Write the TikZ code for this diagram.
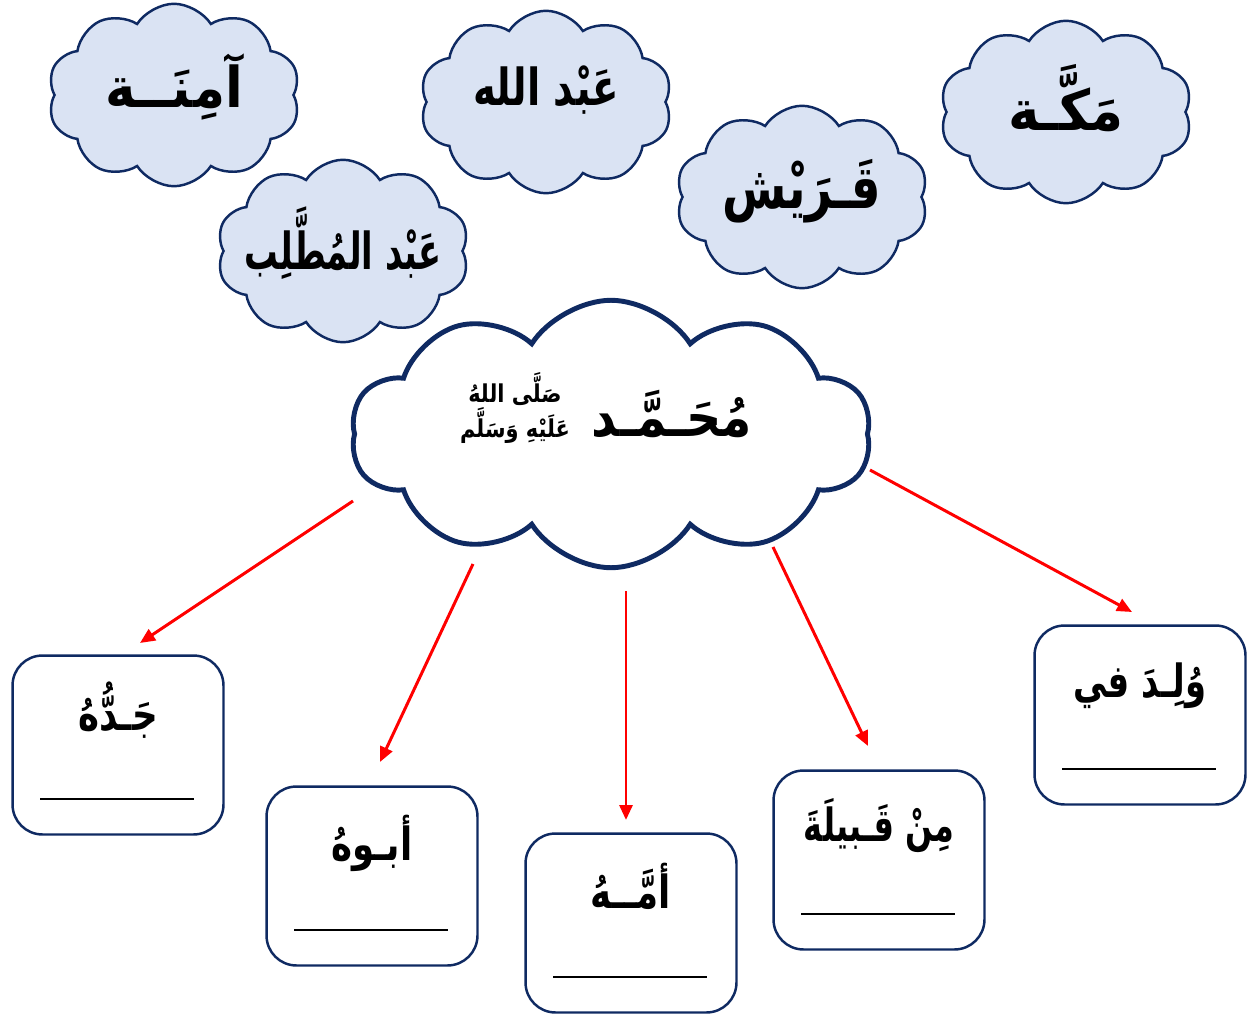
\documentclass[tikz,border=0pt]{standalone}
\usepackage{fontspec}
\TeXXeTstate=1
\newfontfamily\arabicfont[Script=Arabic]{DejaVu Sans}
\usetikzlibrary{shapes.symbols,arrows.meta,calc}
\definecolor{navy}{HTML}{0F2A62}
\definecolor{cloudfill}{HTML}{DAE3F3}
\newcommand{\artxt}[2][0.72]{\scalebox{#1}[1]{\beginR #2\endR}}
\begin{document}
\begin{tikzpicture}[x=0.02cm,y=-0.02cm,
  smallcloud/.style={cloud, cloud puffs=10, cloud puff arc=115, aspect=1.4, draw=navy, fill=cloudfill, line width=1.4pt, minimum width=5.05cm, minimum height=3.65cm, inner sep=0pt},
  bigcloud/.style={cloud, cloud puffs=10, cloud puff arc=115, aspect=1.9, draw=navy, fill=white, line width=2.8pt, minimum width=10.4cm, minimum height=5.35cm, inner sep=0pt},
  cloudtext/.style={font=\arabicfont\bfseries\fontsize{29}{34}\selectfont, inner sep=0pt},
  answerbox/.style={draw=navy, line width=1.4pt, rounded corners=0.6cm, minimum width=4.22cm, minimum height=3.58cm, fill=white, inner sep=0pt},
  boxtext/.style={font=\arabicfont\bfseries\fontsize{26}{31}\selectfont, inner sep=0pt},
  answerline/.style={line width=0.8pt, black},
  redarrow/.style={draw=red, line width=1.7pt, -{Triangle[length=0.3cm,width=0.26cm]}}
]
\useasboundingbox (0,0) rectangle (1249,1014);

% top clouds
\node[smallcloud] (amina) at (174,95) {};
\node[smallcloud] (abdallah) at (546,102) {};
\node[smallcloud] (makka) at (1066,112) {};
\node[smallcloud] (quraysh) at (802,197) {};
\node[smallcloud] (muttalib) at (343,251) {};
\node[cloudtext, font=\arabicfont\bfseries\fontsize{32}{38}\selectfont] (taminah) at ($(amina.center)+(0,-8)$) {\artxt[0.92]{آمِنَــة}};
\node[cloudtext] (tabdallah) at ($(abdallah.center)+(0,-12)$) {\artxt[0.76]{عَبْد الله}};
\node[cloudtext, font=\arabicfont\bfseries\fontsize{32}{38}\selectfont] (tmakka) at ($(makka.center)+(0,-14)$) {\artxt[0.95]{مَكَّـة}};
\node[cloudtext, font=\arabicfont\bfseries\fontsize{34}{40}\selectfont] (tquraysh) at ($(quraysh.center)+(0,-6)$) {\artxt[0.78]{قَـرَيْش}};
\node[cloudtext] (tmuttalib) at ($(muttalib.center)+(0,-8)$) {\artxt[0.66]{عَبْد المُطَّلِب}};

% central cloud
\node[bigcloud] (center) at (611,434) {};
\node[font=\arabicfont\bfseries\fontsize{31}{37}\selectfont, inner sep=0pt] (muhammad) at (672,414) {\artxt[0.9]{مُحَـمَّـد}};
\node[font=\arabicfont\bfseries\fontsize{14}{18}\selectfont, align=center, inner sep=0pt] (salawat) at (515,408) {\artxt[0.85]{صَلَّى اللهُ}\\\artxt[0.85]{عَلَيْهِ وَسَلَّم}};

% answer boxes
\node[answerbox] (b1) at (118,745) {};
\node[answerbox] (b2) at (372,876) {};
\node[answerbox] (b3) at (631,923) {};
\node[answerbox] (b4) at (879,860) {};
\node[answerbox] (b5) at (1140,715) {};

\node[boxtext] (t1) at (118,710) {\artxt[0.78]{جَـدُّهُ}};
\node[boxtext] (t2) at (372,843) {\artxt[0.78]{أبـوهُ}};
\node[boxtext] (t3) at (631,886) {\artxt[0.78]{أمَّــهُ}};
\node[boxtext] (t4) at (879,826) {\artxt[0.7]{مِنْ قَـبيلَةَ}};
\node[boxtext] (t5) at (1140,686) {\artxt[0.74]{وُلِـدَ في}};

\foreach \b in {b1,b2,b3,b4,b5}{
  \draw[answerline] ($(\b.center)+(-78,54)$) -- ($(\b.center)+(76,54)$);
}

% arrows
\coordinate (s1) at (353,501); \coordinate (e1) at (140,643);
\coordinate (s2) at (473,564); \coordinate (e2) at (380,762);
\coordinate (s3) at (626,591); \coordinate (e3) at (626,820);
\coordinate (s4) at (773,547); \coordinate (e4) at (868,746);
\coordinate (s5) at (870,470); \coordinate (e5) at (1132,612);
\draw[redarrow] (s1) -- (e1);
\draw[redarrow] (s2) -- (e2);
\draw[redarrow] (s3) -- (e3);
\draw[redarrow] (s4) -- (e4);
\draw[redarrow] (s5) -- (e5);
\end{tikzpicture}
\end{document}
